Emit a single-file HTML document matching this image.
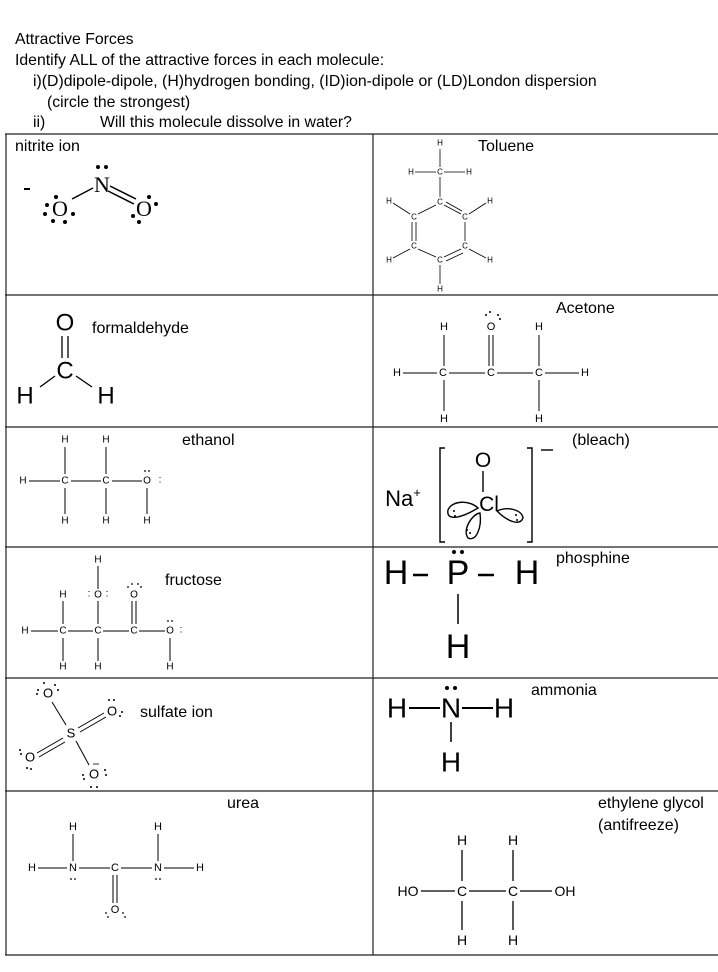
<!DOCTYPE html>
<html><head><meta charset="utf-8"><style>
html,body{margin:0;padding:0;background:#fff;}
svg{display:block;}
text{font-family:"Liberation Sans",sans-serif;fill:#000;}
.s{font-size:8px;}
.m{font-size:11px;}
.l{font-size:16px;}
.hdr{font-size:15.8px;}
</style></head><body>
<svg width="718" height="972" viewBox="0 0 718 972" xmlns="http://www.w3.org/2000/svg">
<g>
<text x="15" y="44" class="hdr">Attractive Forces</text>
<text x="15" y="65" class="hdr">Identify ALL of the attractive forces in each molecule:</text>
<text x="33" y="86" class="hdr">i)(D)dipole-dipole, (H)hydrogen bonding, (ID)ion-dipole or  (LD)London dispersion</text>
<text x="47" y="107" class="hdr">(circle the strongest)</text>
<text x="33" y="127" class="hdr">ii)</text>
<text x="100" y="127" class="hdr">Will this molecule dissolve in water?</text>
</g>
<g stroke="#222" stroke-width="1.2" fill="none">
<line x1="5" y1="134" x2="718" y2="134"/>
<line x1="5" y1="295" x2="718" y2="295"/>
<line x1="5" y1="427" x2="718" y2="427"/>
<line x1="5" y1="547" x2="718" y2="547"/>
<line x1="5" y1="791" x2="718" y2="791"/>
<line x1="5" y1="678" x2="718" y2="678"/>
<line x1="5" y1="955" x2="718" y2="955"/>
<line x1="6" y1="134" x2="6" y2="955"/>
<line x1="373" y1="134" x2="373" y2="955"/>
</g>
<g>
<text x="15" y="151" class="l">nitrite ion</text>
<text x="478" y="151" class="l">Toluene</text>
<text x="92" y="333" class="l">formaldehyde</text>
<text x="556" y="313" class="l">Acetone</text>
<text x="182" y="445" class="l">ethanol</text>
<text x="572" y="445" class="l">(bleach)</text>
<text x="165" y="585" class="l">fructose</text>
<text x="556" y="563" class="l">phosphine</text>
<text x="140" y="717" class="l">sulfate ion</text>
<text x="531" y="695" class="l">ammonia</text>
<text x="227" y="808" class="l">urea</text>
<text x="598" y="808" class="l">ethylene glycol</text>
<text x="598" y="830" class="l">(antifreeze)</text>
</g>
<!-- nitrite -->
<g>
<line x1="24" y1="189" x2="30" y2="189" stroke="#000" stroke-width="2"/>
<text x="60" y="216" font-size="22" text-anchor="middle" style="font-family:'Liberation Serif',serif">O</text>
<text x="102" y="192" font-size="22" text-anchor="middle" style="font-family:'Liberation Serif',serif">N</text>
<text x="144" y="216" font-size="22" text-anchor="middle" style="font-family:'Liberation Serif',serif">O</text>
<g stroke="#000" stroke-width="1.5"><line x1="72" y1="199" x2="93" y2="188"/><line x1="110" y1="186" x2="136" y2="199"/><line x1="108" y1="191" x2="134" y2="204"/></g>
<g fill="#000"><circle cx="98" cy="167" r="2"/><circle cx="106" cy="167" r="2"/><circle cx="56" cy="197" r="2"/><circle cx="47" cy="205" r="2"/><circle cx="45" cy="214" r="2"/><circle cx="53" cy="221" r="2"/><circle cx="65" cy="222" r="2"/><circle cx="73" cy="214" r="2"/><circle cx="149" cy="197" r="2"/><circle cx="156" cy="204" r="2"/><circle cx="133" cy="216" r="2"/><circle cx="139" cy="222" r="2"/></g>
</g>
<!-- toluene -->
<g class="s" text-anchor="middle" dominant-baseline="central">
<text x="440" y="143">H</text><text x="440" y="172">C</text><text x="411" y="172">H</text><text x="469" y="172">H</text>
<text x="440" y="202">C</text><text x="414" y="217">C</text><text x="465" y="217">C</text><text x="414" y="246">C</text><text x="465" y="246">C</text><text x="440" y="260">C</text>
<text x="389" y="201">H</text><text x="490" y="201">H</text><text x="389" y="260">H</text><text x="490" y="260">H</text><text x="440" y="289">H</text>
</g>
<g stroke="#000" stroke-width="0.8">
<line x1="440" y1="149" x2="440" y2="167"/><line x1="415" y1="172" x2="436" y2="172"/><line x1="444" y1="172" x2="465" y2="172"/><line x1="440" y1="177" x2="440" y2="197"/>
<line x1="436" y1="205" x2="418" y2="214"/><line x1="444" y1="205" x2="461" y2="214"/><line x1="446" y1="202" x2="462" y2="211"/>
<line x1="465" y1="222" x2="465" y2="241"/><line x1="412" y1="222" x2="412" y2="241"/><line x1="416" y1="222" x2="416" y2="241"/>
<line x1="418" y1="249" x2="436" y2="257"/><line x1="461" y1="249" x2="444" y2="257"/><line x1="463" y1="253" x2="446" y2="261"/>
<line x1="440" y1="265" x2="440" y2="284"/>
<line x1="393" y1="203" x2="410" y2="214"/><line x1="486" y1="203" x2="469" y2="214"/><line x1="393" y1="258" x2="410" y2="249"/><line x1="486" y1="258" x2="469" y2="249"/>
</g>
<!-- formaldehyde -->
<g font-size="24" text-anchor="middle" dominant-baseline="central">
<text x="65" y="323">O</text><text x="65" y="371">C</text><text x="25" y="396">H</text><text x="106" y="396">H</text>
</g>
<g stroke="#000" stroke-width="1.3"><line x1="62" y1="336" x2="62" y2="358"/><line x1="68" y1="336" x2="68" y2="358"/><line x1="40" y1="387" x2="55" y2="376"/><line x1="76" y1="376" x2="92" y2="387"/></g>
<!-- acetone -->
<g class="m" text-anchor="middle" dominant-baseline="central">
<text x="444" y="327">H</text><text x="491" y="327">O</text><text x="539" y="327">H</text>
<text x="397" y="373">H</text><text x="443" y="373">C</text><text x="491" y="373">C</text><text x="539" y="373">C</text><text x="585" y="373">H</text>
<text x="444" y="419">H</text><text x="539" y="419">H</text>
</g>
<g fill="#000"><circle cx="486" cy="315" r="1"/><circle cx="490" cy="312" r="1"/><circle cx="498" cy="315" r="1"/><circle cx="500" cy="319" r="1"/></g>
<g stroke="#000" stroke-width="1"><line x1="444" y1="335" x2="444" y2="366"/><line x1="539" y1="335" x2="539" y2="366"/><line x1="489" y1="335" x2="489" y2="366"/><line x1="493" y1="335" x2="493" y2="366"/>
<line x1="403" y1="373" x2="437" y2="373"/><line x1="449" y1="373" x2="485" y2="373"/><line x1="497" y1="373" x2="533" y2="373"/><line x1="545" y1="373" x2="579" y2="373"/>
<line x1="444" y1="380" x2="444" y2="411"/><line x1="539" y1="380" x2="539" y2="411"/></g>
<!-- ethanol -->
<g text-anchor="middle" dominant-baseline="central" font-size="10">
<text x="65" y="440">H</text><text x="106" y="440">H</text>
<text x="23" y="481">H</text><text x="65" y="481">C</text><text x="106" y="481">C</text><text x="147" y="481">O</text><text x="160" y="480">:</text>
<text x="65" y="521">H</text><text x="106" y="521">H</text><text x="147" y="521">H</text>
</g>
<g fill="#000"><circle cx="145" cy="471" r="0.9"/><circle cx="149" cy="471" r="0.9"/></g>
<g stroke="#000" stroke-width="1"><line x1="65" y1="447" x2="65" y2="474"/><line x1="106" y1="447" x2="106" y2="474"/><line x1="29" y1="481" x2="60" y2="481"/><line x1="71" y1="481" x2="101" y2="481"/><line x1="112" y1="481" x2="142" y2="481"/><line x1="65" y1="488" x2="65" y2="514"/><line x1="106" y1="488" x2="106" y2="514"/><line x1="147" y1="488" x2="147" y2="514"/></g>
<!-- bleach -->
<text x="403" y="506" font-size="22" text-anchor="middle">Na<tspan font-size="13" dy="-9">+</tspan></text>
<g stroke="#000" stroke-width="1.4" fill="none">
<polyline points="445,448 440,448 440,542 445,542"/><polyline points="527,448 532,448 532,542 527,542"/>
<line x1="541" y1="450" x2="553" y2="450"/>
<line x1="483" y1="471" x2="483" y2="492"/>
<path d="M478,508 C470,500 452,500 448,510 C446,520 458,520 478,508Z"/>
<path d="M480,513 C472,514 462,530 468,538 C476,542 482,528 480,513Z"/>
<path d="M497,511 C508,506 522,510 523,518 C520,526 508,522 497,511Z"/>
</g>
<text x="483" y="467" font-size="21" text-anchor="middle">O</text>
<text x="489" y="511" font-size="21" text-anchor="middle">Cl</text>
<g fill="#000"><circle cx="454" cy="511" r="1"/><circle cx="455" cy="516" r="1"/><circle cx="467" cy="530" r="1"/><circle cx="470" cy="533" r="1"/><circle cx="516" cy="515" r="1"/><circle cx="517" cy="520" r="1"/></g>
<!-- fructose -->
<g text-anchor="middle" dominant-baseline="central" font-size="10">
<text x="98" y="560">H</text>
<text x="63" y="595">H</text><text x="98" y="595">O</text><text x="89" y="594">:</text><text x="107" y="594">:</text><text x="134" y="595">O</text>
<text x="25" y="631">H</text><text x="63" y="631">C</text><text x="98" y="631">C</text><text x="134" y="631">C</text><text x="170" y="631">O</text><text x="181" y="630">:</text>
<text x="63" y="667">H</text><text x="98" y="667">H</text><text x="170" y="667">H</text>
</g>
<g fill="#000"><circle cx="128" cy="587" r="0.9"/><circle cx="132" cy="584" r="0.9"/><circle cx="138" cy="584" r="0.9"/><circle cx="141" cy="587" r="0.9"/><circle cx="168" cy="621" r="0.9"/><circle cx="172" cy="621" r="0.9"/></g>
<g stroke="#000" stroke-width="1"><line x1="98" y1="566" x2="98" y2="589"/><line x1="63" y1="601" x2="63" y2="624"/><line x1="98" y1="601" x2="98" y2="624"/><line x1="132" y1="601" x2="132" y2="624"/><line x1="136" y1="601" x2="136" y2="624"/>
<line x1="31" y1="631" x2="58" y2="631"/><line x1="68" y1="631" x2="93" y2="631"/><line x1="103" y1="631" x2="129" y2="631"/><line x1="139" y1="631" x2="165" y2="631"/>
<line x1="63" y1="638" x2="63" y2="661"/><line x1="98" y1="638" x2="98" y2="661"/><line x1="170" y1="638" x2="170" y2="661"/></g>
<!-- phosphine -->
<g font-size="34" text-anchor="middle" dominant-baseline="central">
<text x="396" y="573">H</text><text x="458" y="573">P</text><text x="527" y="573">H</text><text x="458" y="647">H</text>
</g>
<g stroke="#000" stroke-width="2.5"><line x1="413" y1="575" x2="428" y2="575"/><line x1="478" y1="575" x2="494" y2="575"/></g>
<line x1="458" y1="594" x2="458" y2="624" stroke="#000" stroke-width="1.5"/>
<g fill="#000"><circle cx="454" cy="552" r="2"/><circle cx="462" cy="552" r="2"/></g>
<!-- sulfate -->
<g text-anchor="middle" dominant-baseline="central" font-size="13">
<text x="48" y="693">O</text><text x="112" y="711">O</text><text x="71" y="733">S</text><text x="30" y="757">O</text><text x="94" y="774">O</text>
</g>
<g stroke="#000" stroke-width="1"><line x1="52" y1="702" x2="66" y2="725"/><line x1="78" y1="728" x2="104" y2="713"/><line x1="80" y1="732" x2="106" y2="717"/><line x1="37" y1="753" x2="63" y2="738"/><line x1="39" y1="757" x2="65" y2="742"/><line x1="76" y1="741" x2="89" y2="765"/></g>
<g fill="#000"><circle cx="44" cy="683" r="1"/><circle cx="38" cy="690" r="1"/><circle cx="37" cy="694" r="1"/><circle cx="55" cy="685" r="1"/><circle cx="58" cy="690" r="1"/><circle cx="109" cy="700" r="1"/><circle cx="114" cy="700" r="1"/><circle cx="120" cy="716" r="1"/><circle cx="122" cy="712" r="1"/><circle cx="20" cy="750" r="1"/><circle cx="21" cy="754" r="1"/><circle cx="27" cy="768" r="1"/><circle cx="31" cy="769" r="1"/><circle cx="83" cy="775" r="1"/><circle cx="84" cy="779" r="1"/><circle cx="91" cy="787" r="1"/><circle cx="97" cy="787" r="1"/><circle cx="105" cy="770" r="1"/><circle cx="106" cy="775" r="1"/></g>
<line x1="93" y1="764" x2="99" y2="764" stroke="#000" stroke-width="0.8"/>
<!-- ammonia -->
<g font-size="28" text-anchor="middle" dominant-baseline="central">
<text x="397" y="708">H</text><text x="451" y="708">N</text><text x="504" y="708">H</text><text x="451" y="762">H</text>
</g>
<g stroke="#000" stroke-width="2"><line x1="409" y1="708" x2="440" y2="708"/><line x1="462" y1="708" x2="493" y2="708"/></g>
<line x1="451" y1="722" x2="451" y2="742" stroke="#000" stroke-width="1.5"/>
<g fill="#000"><circle cx="447" cy="688" r="2"/><circle cx="455" cy="688" r="2"/></g>
<!-- urea -->
<g text-anchor="middle" dominant-baseline="central" font-size="11">
<text x="73" y="827">H</text><text x="158" y="827">H</text>
<text x="32" y="868">H</text><text x="73" y="868">N</text><text x="115" y="868">C</text><text x="158" y="868">N</text><text x="200" y="868">H</text>
<text x="115" y="910">O</text>
</g>
<g fill="#000"><circle cx="71" cy="879" r="0.9"/><circle cx="75" cy="879" r="0.9"/><circle cx="156" cy="879" r="0.9"/><circle cx="160" cy="879" r="0.9"/><circle cx="106" cy="913" r="0.9"/><circle cx="108" cy="917" r="0.9"/><circle cx="123" cy="913" r="0.9"/><circle cx="125" cy="917" r="0.9"/></g>
<g stroke="#000" stroke-width="1"><line x1="73" y1="834" x2="73" y2="861"/><line x1="158" y1="834" x2="158" y2="861"/><line x1="38" y1="868" x2="67" y2="868"/><line x1="79" y1="868" x2="110" y2="868"/><line x1="121" y1="868" x2="152" y2="868"/><line x1="164" y1="868" x2="194" y2="868"/><line x1="113" y1="875" x2="113" y2="903"/><line x1="117" y1="875" x2="117" y2="903"/></g>
<!-- ethylene glycol -->
<g text-anchor="middle" dominant-baseline="central" font-size="14">
<text x="462" y="840">H</text><text x="513" y="840">H</text>
<text x="408" y="891">HO</text><text x="462" y="891">C</text><text x="513" y="891">C</text><text x="565" y="891">OH</text>
<text x="462" y="940">H</text><text x="513" y="940">H</text>
</g>
<g stroke="#000" stroke-width="1.3"><line x1="462" y1="850" x2="462" y2="881"/><line x1="513" y1="850" x2="513" y2="881"/><line x1="421" y1="891" x2="455" y2="891"/><line x1="469" y1="891" x2="506" y2="891"/><line x1="520" y1="891" x2="552" y2="891"/><line x1="462" y1="901" x2="462" y2="930"/><line x1="513" y1="901" x2="513" y2="930"/></g>
</svg>
</body></html>
